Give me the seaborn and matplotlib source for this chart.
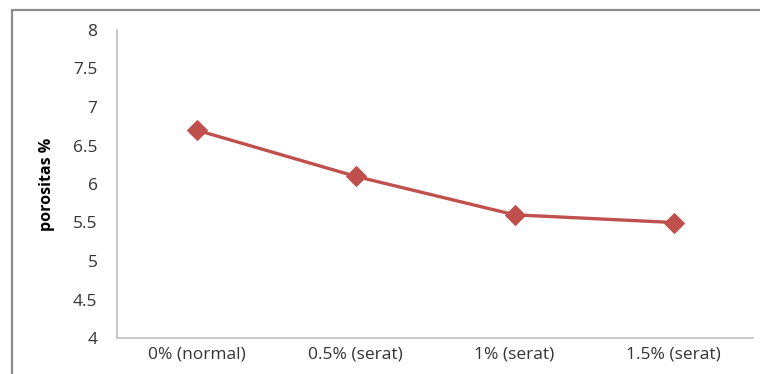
import matplotlib
matplotlib.use("Agg")
import matplotlib.pyplot as plt
from matplotlib.patches import Rectangle
import pandas as pd
import seaborn as sns

categories = ["0% (normal)", "0.5% (serat)", "1% (serat)", "1.5% (serat)"]
porosity = [6.7, 6.1, 5.6, 5.5]
y_ticks = [4, 4.5, 5, 5.5, 6, 6.5, 7, 7.5, 8]
y_tick_labels = ["4", "4.5", "5", "5.5", "6", "6.5", "7", "7.5", "8"]

df = pd.DataFrame({"kadar": categories, "porositas": porosity})

sns.set_style("white")
plt.rcParams["font.family"] = ["Open Sans", "DejaVu Sans"]

W, H = 760, 374
fig = plt.figure(figsize=(W / 100, H / 100), dpi=100)
ax = fig.add_axes([117 / W, 1 - 338 / H, (753 - 117) / W, (338 - 30) / H])

red = "#C0504D"
sns.lineplot(data=df, x="kadar", y="porositas", ax=ax, sort=False,
             color=red, linewidth=2.4, marker="D", markersize=10,
             markeredgecolor=red, markerfacecolor=red)

ax.set_xlim(-0.5, len(categories) - 0.5)
ax.set_ylim(4, 8)
ax.set_yticks(y_ticks)
ax.set_yticklabels(y_tick_labels)
ax.tick_params(axis="both", length=0, labelsize=12.5, colors="#333333")
ax.tick_params(axis="y", pad=14)
ax.tick_params(axis="x", pad=6)
ax.set_xlabel("")
ax.set_ylabel("porositas %", fontsize=11.5, fontweight="bold", labelpad=13, color="black")

for side in ["top", "right"]:
    ax.spines[side].set_visible(False)
for side in ["left", "bottom"]:
    ax.spines[side].set_color("#BFBFBF")
    ax.spines[side].set_linewidth(1.2)

# outer chart frame
fig.patches.append(Rectangle((11.5 / W, -0.1), 1.2, 1 - 10.5 / H + 0.1,
                             transform=fig.transFigure, fill=False,
                             edgecolor="#8C8C8C", linewidth=1.6))

fig.savefig("out.png", dpi=100)
